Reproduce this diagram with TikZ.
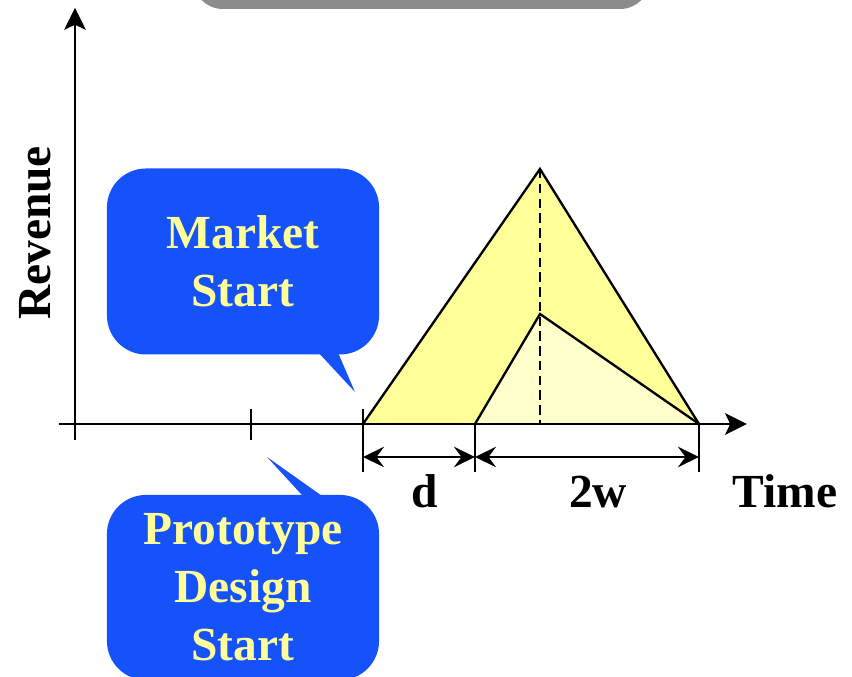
\documentclass[tikz,border=0pt]{standalone}
\usepackage{fontspec}
\setmainfont{Liberation Serif}
\usepackage{tikz}
\usetikzlibrary{arrows.meta,positioning,calc}
\definecolor{CallBlue}{RGB}{22,82,250}
\definecolor{NoteYellow}{RGB}{255,255,153}
\definecolor{PaleYellow}{RGB}{255,255,204}
\definecolor{BarGray}{RGB}{140,140,140}

\begin{document}
\begin{tikzpicture}[
 axis/.style={-{Stealth[length=0.73cm,width=0.72cm,inset=0.17cm]}, line width=2.2pt},
 tick/.style={line width=2.2pt},
 dim/.style={{Stealth[length=0.7cm,width=0.68cm,inset=0.25cm]}-{Stealth[length=0.7cm,width=0.68cm,inset=0.25cm]}, line width=2.2pt},
 bubble/.style={fill=CallBlue, rounded corners=1.3cm, minimum width=9.07cm, minimum height=6.2cm, align=center, text=NoteYellow, font=\fontsize{45}{55}\selectfont\bfseries},
 lbl/.style={font=\fontsize{45}{55}\selectfont\bfseries},
 line join=miter
]
\useasboundingbox (-2.5,-8.433) rectangle (25.9,14.133);

% header bar, cut by the page edge
\fill[BarGray, rounded corners=1cm] (3.933,13.833) rectangle (19.167,16);

\coordinate (O) at (0,0);
\coordinate (ytop) at (0,13.87);
\coordinate (xend) at (22.4,0);
\coordinate (pds) at (5.867,0);
\coordinate (mkt) at (9.6,0);
\coordinate (mid) at (13.333,0);
\coordinate (end) at (20.8,0);
\coordinate (peak) at (15.5,8.5);
\coordinate (knee) at (15.5,3.667);
\coordinate (foot) at (15.5,0);

% revenue windows
\fill[NoteYellow] (mkt) -- (peak) -- (end) -- cycle;
\fill[PaleYellow] (mid) -- (knee) -- (end) -- cycle;
\draw[tick] (mkt) -- (peak) -- (end);
\draw[tick] (mid) -- (knee) -- (end);
\draw[tick, dash pattern=on 9pt off 5pt] (peak) -- (foot);

% axes
\draw[axis] (0,-0.533) -- (ytop);
\draw[axis] (-0.533,0) -- (xend);
\draw[tick] ($(pds)+(0,0.5)$) -- ($(pds)+(0,-0.533)$);
\draw[tick] ($(mkt)+(0,0.5)$) -- ($(mkt)+(0,-1.6)$);
\foreach \p in {mid,end} {\draw[tick] (\p) -- ($(\p)+(0,-1.6)$);}

% delay and window
\coordinate (d1) at (9.6,-1.1);
\coordinate (d2) at (13.333,-1.1);
\coordinate (d3) at (20.8,-1.1);
\draw[dim] (d1) -- (d2);
\draw[dim] (d2) -- (d3);
\node[lbl, anchor=base] (dlab) at (11.667,-2.77) {d};
\node[lbl, anchor=base] (wlab) at (17.433,-2.77) {2w};
\node[lbl, anchor=base] (tlab) at (23.667,-2.77) {Time};
\node[lbl, rotate=90] (rlab) at (-1.317,6.367) {Revenue};

% callouts
\node[bubble] (mktnote) at (5.6,5.417) {Market\\Start};
\coordinate (mkttip) at (9.333,1.067);
\fill[CallBlue] ($(mktnote.south)+(2.3,0.3)$) -- (mkttip) -- ($(mktnote.south)+(3.067,0.3)$) -- cycle;

\node[bubble, minimum height=6.17cm] (protonote) at (5.6,-5.45) {Prototype\\Design\\Start};
\coordinate (prototip) at (6.4,-1.1);
\fill[CallBlue] ($(protonote.north)+(2.233,-0.3)$) -- (prototip) -- ($(protonote.north)+(3.0,-0.3)$) -- cycle;
\end{tikzpicture}
\end{document}
